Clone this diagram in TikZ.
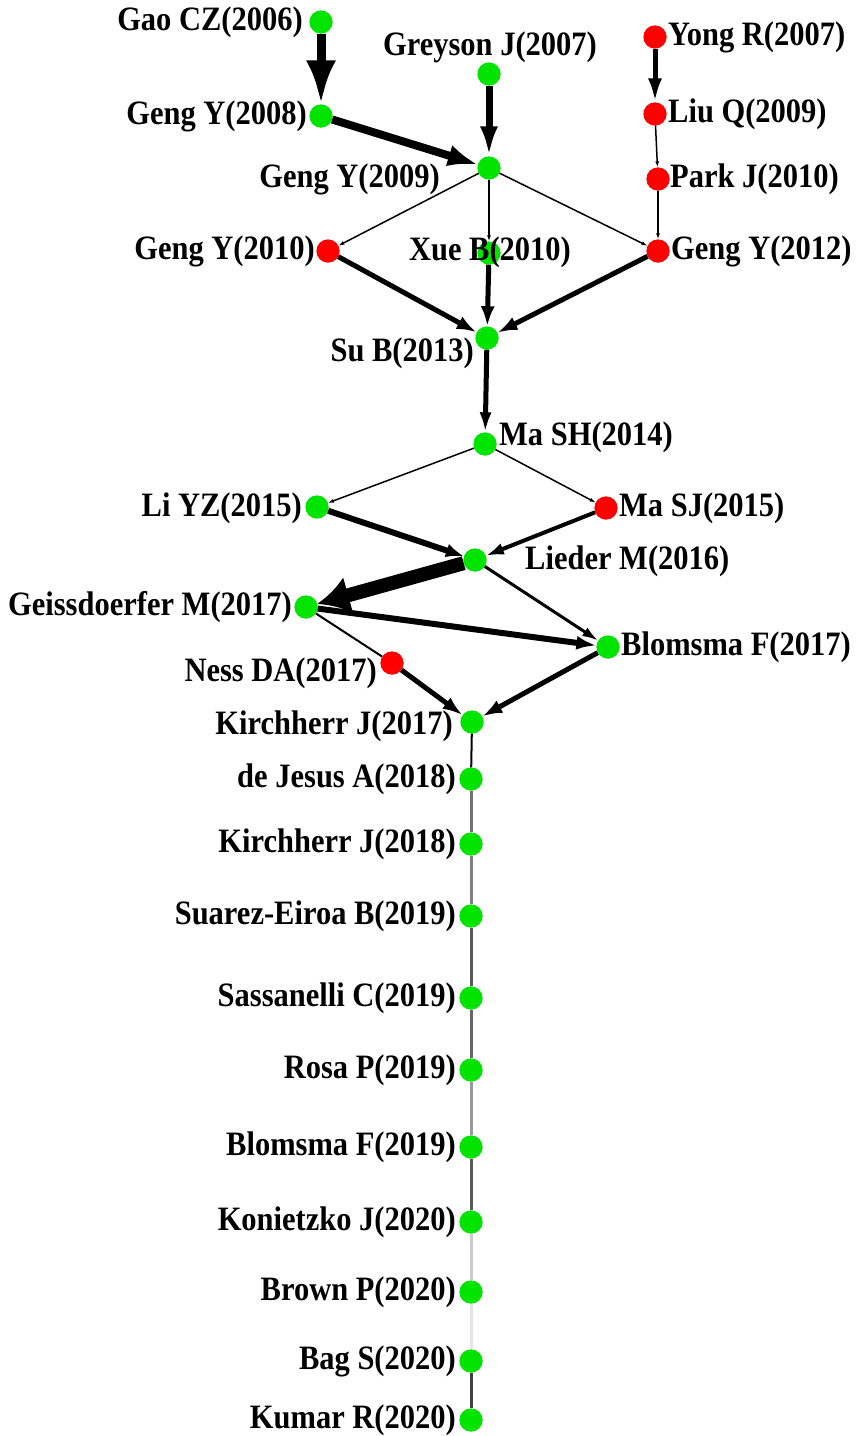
\documentclass[tikz,border=0pt]{standalone}
\usepackage{fontspec}
\setmainfont{Liberation Serif}
\usetikzlibrary{arrows.meta}
\newcommand\Lt[1]{\scalebox{1}[1.12]{#1}}
\begin{document}
\begin{tikzpicture}[x=1pt,y=-1pt,
  pt/.style={circle,inner sep=0pt,minimum size=23pt},
  gn/.style={pt,fill=green!85!black!70!green},
  rd/.style={pt,fill=red},
  lab/.style={inner sep=0pt,font=\fontsize{30.5}{32}\selectfont\bfseries},
  ed/.style n args={3}{draw=black,line width=#1pt,-{Latex[length=#2pt,width=#3pt]}},
  thin/.style={draw=black,line width=1.5pt,-{Latex[length=6pt,width=4pt]}},
  gl/.style={draw=#1,line width=3pt}]
\useasboundingbox (0,0) rectangle (858,1436);
% nodes
\node[gn] (gao) at (321,22) {};
\node[gn] (grey) at (489,74) {};
\node[rd] (yong) at (655,37) {};
\node[gn] (g08) at (321,116) {};
\node[rd] (liu) at (655,114) {};
\node[gn] (g09) at (489,168) {};
\node[rd] (park) at (658,179) {};
\node[rd] (g10) at (328,251) {};
\node[gn] (xue) at (489,253) {};
\node[rd] (g12) at (658,251) {};
\node[gn] (sub) at (487,338) {};
\node[gn] (mash) at (485,444) {};
\node[gn] (liyz) at (317,507) {};
\node[rd] (masj) at (606,508) {};
\node[gn] (lied) at (475,560) {};
\node[gn] (geis) at (306,607) {};
\node[gn] (blo17) at (608,647) {};
\node[rd] (ness) at (392,663) {};
\node[gn] (kir17) at (472,722) {};
\node[gn] (dej) at (471,779) {};
\node[gn] (kir18) at (471,844) {};
\node[gn] (sua) at (471,916) {};
\node[gn] (sas) at (471,998) {};
\node[gn] (rosa) at (471,1070) {};
\node[gn] (blo19) at (471,1147) {};
\node[gn] (kon) at (471,1222) {};
\node[gn] (brown) at (471,1292) {};
\node[gn] (bag) at (471,1361) {};
\node[gn] (kum) at (471,1420) {};
% edges
\draw[ed={9}{44}{30}] (gao) -- (g08);
\draw[ed={7}{30}{18}] (grey) -- (g09);
\draw[ed={8}{30}{22}] (g08) -- (g09);
\draw[ed={5}{24}{14}] (yong) -- (liu);
\draw[thin] (liu) -- (park);
\draw[thin] (park) -- (g12);
\draw[thin] (g09) -- (g10);
\draw[thin] (g09) -- (xue);
\draw[thin] (g09) -- (g12);
\draw[ed={5}{20}{14}] (g10) -- (sub);
\draw[ed={5}{20}{14}] (xue) -- (sub);
\draw[ed={5}{20}{14}] (g12) -- (sub);
\draw[ed={5}{20}{12}] (sub) -- (mash);
\draw[thin] (mash) -- (liyz);
\draw[thin] (mash) -- (masj);
\draw[ed={6}{18}{14}] (liyz) -- (lied);
\draw[ed={4}{18}{12}] (masj) -- (lied);
\draw[ed={14}{32}{38}] (lied) -- (geis);
\draw[ed={3}{16}{10}] (lied) -- (blo17);
\draw[ed={6}{20}{14}] (geis) -- (blo17);
\draw[draw=black,line width=2pt] (geis) -- (ness);
\draw[ed={5}{20}{14}] (ness) -- (kir17);
\draw[ed={5}{20}{14}] (blo17) -- (kir17);
\draw[draw=black,line width=2pt] (kir17) -- (dej);
\draw[gl=black!55] (dej) -- (kir18);
\draw[gl=black!50] (kir18) -- (sua);
\draw[gl=black!65] (sua) -- (sas);
\draw[gl=black!60] (sas) -- (rosa);
\draw[gl=black!40] (rosa) -- (blo19);
\draw[gl=black!65] (blo19) -- (kon);
\draw[gl=black!20] (kon) -- (brown);
\draw[gl=black!10] (brown) -- (bag);
\draw[gl=black!75] (bag) -- (kum);
% redraw node discs on top of the edges
\foreach \n/\s in {gao/gn,grey/gn,yong/rd,g08/gn,liu/rd,g09/gn,park/rd,g10/rd,xue/gn,g12/rd,sub/gn,mash/gn,liyz/gn,masj/rd,lied/gn,geis/gn,blo17/gn,ness/rd,kir17/gn,dej/gn,kir18/gn,sua/gn,sas/gn,rosa/gn,blo19/gn,kon/gn,brown/gn,bag/gn,kum/gn}
  \fill[\s] (\n.center) circle (11.5pt);
% labels
\node[lab,anchor=east] (tgao) at (303,22) {\Lt{Gao CZ(2006)}};
\node[lab] (tgrey) at (490,47) {\Lt{Greyson J(2007)}};
\node[lab,anchor=west] (tyong) at (668,37) {\Lt{Yong R(2007)}};
\node[lab,anchor=east] (tg08) at (307,116) {\Lt{Geng Y(2008)}};
\node[lab,anchor=west] (tliu) at (668,114) {\Lt{Liu Q(2009)}};
\node[lab,anchor=east] (tg09) at (440,179) {\Lt{Geng Y(2009)}};
\node[lab,anchor=west] (tpark) at (670,179) {\Lt{Park J(2010)}};
\node[lab,anchor=east] (tg10) at (315,251) {\Lt{Geng Y(2010)}};
\node[lab] (txue) at (490,252) {\Lt{Xue B(2010)}};
\node[lab,anchor=west] (tg12) at (671,251) {\Lt{Geng Y(2012)}};
\node[lab,anchor=east] (tsub) at (474,353) {\Lt{Su B(2013)}};
\node[lab,anchor=west] (tmash) at (499,437) {\Lt{Ma SH(2014)}};
\node[lab,anchor=east] (tliyz) at (302,508) {\Lt{Li YZ(2015)}};
\node[lab,anchor=west] (tmasj) at (619,508) {\Lt{Ma SJ(2015)}};
\node[lab,anchor=west] (tlied) at (525,561) {\Lt{Lieder M(2016)}};
\node[lab,anchor=east] (tgeis) at (292,607) {\Lt{Geissdoerfer M(2017)}};
\node[lab,anchor=west] (tblo17) at (621,647) {\Lt{Blomsma F(2017)}};
\node[lab,anchor=east] (tness) at (377,673) {\Lt{Ness DA(2017)}};
\node[lab,anchor=east] (tkir17) at (453,726) {\Lt{Kirchherr J(2017)}};
\node[lab,anchor=east] (tdej) at (456,779) {\Lt{de Jesus A(2018)}};
\node[lab,anchor=east] (tkir18) at (456,844) {\Lt{Kirchherr J(2018)}};
\node[lab,anchor=east] (tsua) at (456,916) {\Lt{Suarez-Eiroa B(2019)}};
\node[lab,anchor=east] (tsas) at (456,998) {\Lt{Sassanelli C(2019)}};
\node[lab,anchor=east] (trosa) at (456,1070) {\Lt{Rosa P(2019)}};
\node[lab,anchor=east] (tblo19) at (456,1147) {\Lt{Blomsma F(2019)}};
\node[lab,anchor=east] (tkon) at (456,1222) {\Lt{Konietzko J(2020)}};
\node[lab,anchor=east] (tbrown) at (456,1292) {\Lt{Brown P(2020)}};
\node[lab,anchor=east] (tbag) at (456,1361) {\Lt{Bag S(2020)}};
\node[lab,anchor=east] (tkum) at (456,1420) {\Lt{Kumar R(2020)}};
\end{tikzpicture}
\end{document}
